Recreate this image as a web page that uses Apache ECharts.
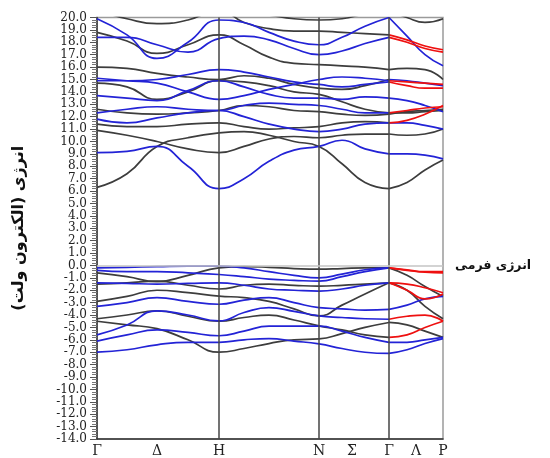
<!DOCTYPE html>
<html><head><meta charset="utf-8">
<script src="https://cdn.jsdelivr.net/npm/echarts@6/dist/echarts.min.js"></script>
<style>html,body{margin:0;padding:0;background:#fff}#c{width:550px;height:458px}</style>
</head><body><div id="c"></div>
<script>
// k-path coordinates (Γ–H–N–Γ–P) and labels
const kPath = [0,30,60,91,122,147,172,197,222,245,268,292,310,328,346];
const kLabels = ['Γ','Δ','H','N','Σ','Γ','Λ','P'];
const kLabelPos = [0,60,122,222,255,292,319,346];
const symLines = [122,222,292];
const yTicks = {min:-14, max:20, step:1};
const yTickValues = [20,19,18,17,16,15,14,13,12,11,10,9,8,7,6,5,4,3,2,1,0,-1,-2,-3,-4,-5,-6,-7,-8,-9,-10,-11,-12,-13,-14];
const fermiLabel = 'انرژی فرمی';
const yTitle = 'انرژی (الکترون ولت)';

// conduction bands (eV) at kPath points
const c1  = [6.3,7.4,9.6,10.3,10.7, 10.8,10.5,10.0,9.6, 8.2,6.7,6.2, 6.7,7.7,8.5];
const c2  = [9.1,9.2,9.6,8.0,6.2, 7.0,8.4,9.3,9.6, 10.1,9.4,9.0, 9.0,8.9,8.6];
const c3  = [10.9,10.5,10.0,9.4,9.1, 9.6,10.2,10.4,10.3, 10.5,10.6,10.6, 10.5,10.6,11.0];
const c4  = [11.4,11.2,11.2,11.4,11.5, 11.2,11.0,11.1,11.2, 11.5,11.6,11.5, 11.7,12.2,12.9];
const c5  = [11.8,11.5,11.9,12.3,12.5, 12.0,11.4,11.0,10.8, 11.0,11.4,11.5, 11.5,11.3,11.0];
const c6  = [12.6,12.3,12.2,12.3,12.5, 12.9,12.8,12.5,12.4, 12.2,12.1,12.2, 12.4,12.5,12.6];
const c7  = [12.3,12.6,12.8,12.6,12.5, 12.9,13.1,13.0,12.9, 12.6,12.3,12.3, 12.5,12.7,12.8];
const c8  = [13.7,13.5,13.3,14.1,14.9, 14.4,13.8,13.5,13.5, 13.4,13.6,13.5, 13.3,12.9,12.4];
const c9  = [14.7,14.4,13.4,14.0,14.9, 14.8,14.5,14.0,13.8, 13.2,12.6,12.3, 12.3,12.4,12.5];
const c10 = [14.9,14.9,15.0,15.4,15.8, 15.6,15.2,14.8,14.6, 14.4,14.6,14.8, 14.5,14.3,14.3];
const c11 = [15.1,14.9,14.7,14.0,13.4, 13.7,14.2,14.6,15.0, 15.2,15.1,14.9, 14.8,14.7,14.6];
const c12 = [16.0,15.9,15.5,15.2,15.0, 15.3,15.1,14.6,14.3, 14.2,14.5,15.0, 14.9,14.7,14.5];
const c13 = [18.8,18.1,17.1,17.8,18.6, 17.8,16.8,16.3,16.2, 16.1,16.0,15.8, 15.9,15.8,15.0];
const c14 = [18.4,18.4,17.8,17.2,18.3, 18.5,18.2,17.5,17.0, 17.3,17.9,18.4, 18.0,17.5,17.2];
const c15 = [19.9,18.6,16.7,18.0,19.8, 19.6,18.8,18.1,17.8, 18.4,19.3,20.0, 18.5,17.0,16.1];
const c16 = [20.6,19.9,19.5,19.8,20.6, 19.6,19.1,18.9,18.9, 18.8,18.7,18.6, 18.2,17.7,17.4];
const c17 = [21.5,21.2,21.0,21.2,21.5, 20.5,20.2,19.9,19.8, 19.9,20.3,20.6, 20.0,19.6,19.9];

// valence bands (eV)
const v1  = [-0.2,-0.15,-0.1,-0.05,-0.05, -0.2,-0.5,-0.8,-1.0, -0.7,-0.35,-0.2, -0.35,-0.5,-0.5];
const v2  = [-0.6,-0.9,-1.3,-0.8,-0.2, -0.1,-0.15,-0.25,-0.3, -0.25,-0.2,-0.2, -0.8,-1.7,-2.5];
const v3  = [-0.4,-0.5,-0.5,-0.6,-0.73, -0.9,-1.1,-1.2,-1.27, -0.9,-0.5,-0.2, -0.4,-0.55,-0.6];
const v4  = [-1.5,-1.4,-1.26,-1.6,-1.9, -1.6,-1.5,-1.6,-1.67, -1.6,-1.5,-1.4, -1.5,-1.8,-2.2];
const v5  = [-1.4,-1.45,-1.5,-1.45,-1.4, -1.6,-1.9,-2.0,-2.07, -1.9,-1.6,-1.4, -2.0,-2.7,-2.3];
const v6  = [-2.9,-2.5,-2.0,-2.2,-2.47, -2.6,-2.9,-3.5,-4.07, -3.2,-2.3,-1.4, -2.0,-3.3,-4.3];
const v7  = [-3.3,-3.0,-2.6,-2.9,-3.13, -2.8,-2.6,-3.0,-3.4, -3.5,-3.6,-3.54, -3.2,-2.7,-2.5];
const v8  = [-4.3,-4.0,-3.66,-4.1,-4.5, -4.2,-4.0,-4.4,-4.87, -5.2,-5.6,-5.8, -5.6,-5.0,-4.5];
const v9  = [-4.5,-4.8,-5.1,-6.0,-7.0, -6.7,-6.3,-6.0,-5.93, -5.5,-5.0,-4.6, -4.8,-5.3,-5.8];
const v10 = [-5.6,-4.8,-3.66,-4.0,-4.47, -3.8,-3.4,-3.7,-4.07, -4.2,-4.3,-4.34, -4.1,-4.0,-4.5];
const v11 = [-6.1,-5.6,-5.2,-5.4,-5.67, -5.3,-4.9,-4.9,-4.9, -5.3,-5.8,-6.2, -6.2,-6.0,-5.8];
const v12 = [-7.0,-6.8,-6.4,-6.2,-6.2, -6.0,-5.9,-6.1,-6.33, -6.7,-7.0,-7.1, -6.8,-6.3,-5.9];

const K = '#3d3d3d', B = '#2323d6', R = '#ee1010';
// [band, colour Γ–Γ, colour Γ–P]
const bands = [
  [c1,K,K],[c2,B,B],[c3,K,K],[c4,K,R],[c5,B,B],[c6,K,K],[c7,B,R],[c8,B,B],[c9,K,K],
  [c10,B,R],[c11,B,R],[c12,K,B],[c13,K,K],[c14,B,R],[c15,B,B],[c16,K,R],[c17,K,K],
  [v1,B,R],[v2,K,K],[v3,B,R],[v4,K,R],[v5,B,R],[v6,K,K],[v7,B,B],[v8,K,R],[v9,K,K],
  [v10,B,R],[v11,B,B],[v12,B,B]
];

const lineOf = (pts, color, z) => ({
  type:'line', data: pts, smooth: 0.5, symbol:'none', silent:true, z: z,
  lineStyle:{color: color, width:1.7}, clip:true
});
const rank = {}; rank[K]=2; rank[B]=3; rank[R]=4;
const series = [];
bands.forEach(([vals, mc, tc]) => {
  series.push(lineOf(kPath.slice(0,12).map((x,i)=>[x, vals[i]]), mc, rank[mc]));
  series.push(lineOf(kPath.slice(11).map((x,i)=>[x, vals[i+11]]), tc, rank[tc]));
});
series.push({
  type:'line', data:[], silent:true, z:1,
  markLine:{ silent:true, symbol:'none', animation:false,
    lineStyle:{color:'#444', width:1.5, type:'solid'}, label:{show:false},
    data: symLines.map(x=>({xAxis:x})) }
});
series.push({
  type:'line', data:[], silent:true, z:1,
  markLine:{ silent:true, symbol:'none', animation:false,
    lineStyle:{color:'#c4c4c4', width:1.5, type:'solid'},
    label:{show:true, position:'end', distance:12, formatter: fermiLabel,
      fontFamily:'DejaVu Sans', fontWeight:'bold', fontSize:12.5, color:'#111'},
    data:[{yAxis:0}] }
});

const chart = echarts.init(document.getElementById('c'), null, {renderer:'canvas'});
chart.setOption({
  animation:false,
  backgroundColor:'#fff',
  grid:{left:97, right:107, top:17.5, bottom:15.5, show:true, borderColor:'#9a9a9a', borderWidth:1.5},
  xAxis:{type:'value', min:kPath[0], max:kPath[kPath.length-1],
    axisLine:{show:true, onZero:false, lineStyle:{color:'#333', width:1.5}},
    axisTick:{show:false},
    splitLine:{show:false},
    axisLabel:{customValues:kLabelPos, margin:5, fontFamily:'DejaVu Serif', fontSize:14, color:'#222',
      formatter:(v)=>{const i=kLabelPos.indexOf(v); return i>=0?kLabels[i]:'';}}
  },
  yAxis:{type:'value', min:yTicks.min, max:yTicks.max, interval:yTicks.step,
    name:yTitle, nameLocation:'middle', nameGap:70,
    nameTextStyle:{fontFamily:'DejaVu Sans', fontWeight:'bold', fontSize:16, color:'#111'},
    axisLine:{show:true, onZero:false, lineStyle:{color:'#333', width:1.5}},
    axisTick:{show:true, inside:false, length:7, lineStyle:{color:'#555'}},
    minorTick:{show:true, splitNumber:5, length:5, lineStyle:{color:'#777'}},
    splitLine:{show:false},
    axisLabel:{customValues:yTickValues, margin:10, fontFamily:'DejaVu Serif', fontSize:12, lineHeight:11, padding:0, color:'#222',
      showMinLabel:true, showMaxLabel:true, hideOverlap:false,
      formatter:(v)=>Number(v).toFixed(1)}
  },
  series: series
});
</script></body></html>
